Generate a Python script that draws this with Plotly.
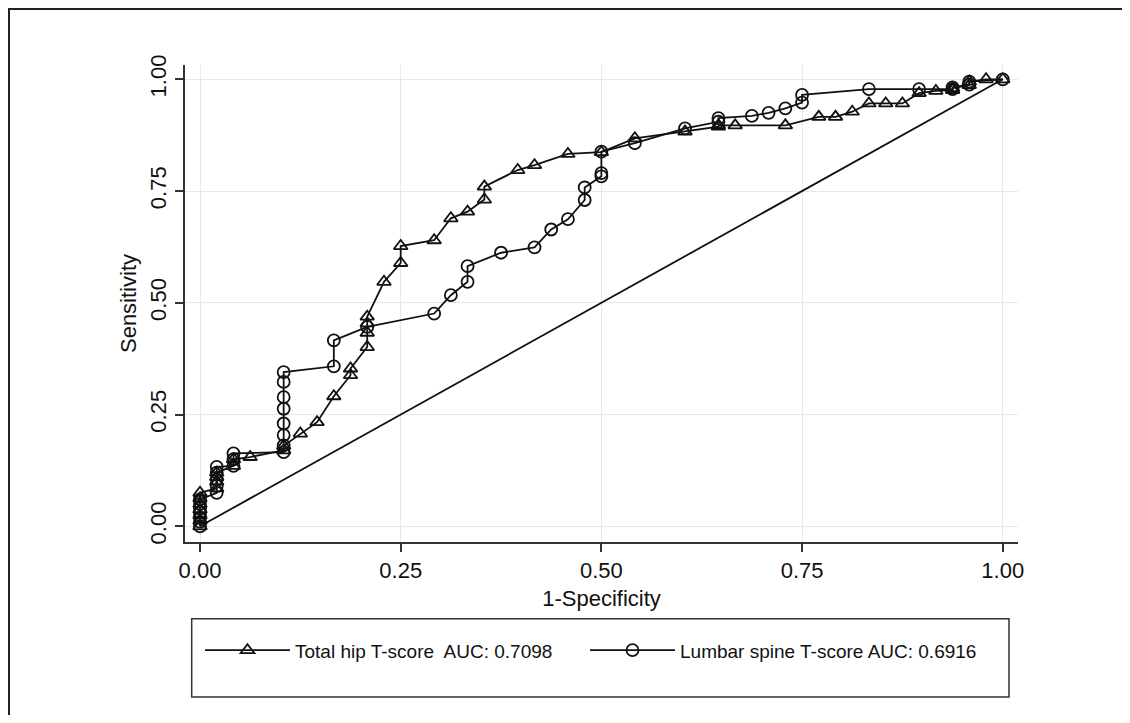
import plotly.graph_objects as go

# Total hip T-score ROC points (1-specificity, sensitivity)
hip_fpr = [0, 0, 0, 0, 0, 0, 0,
           0.0208, 0.0208, 0.0208, 0.0208,
           0.0417, 0.0417, 0.0625, 0.1042, 0.1042, 0.125, 0.1458, 0.1667,
           0.1875, 0.1875, 0.2083, 0.2083, 0.2083, 0.2083, 0.2292, 0.25, 0.25,
           0.2917, 0.3125, 0.3333, 0.3542, 0.3542, 0.3958, 0.4167, 0.4583, 0.5,
           0.5417, 0.6042, 0.6458, 0.6458, 0.6667, 0.7292, 0.7708, 0.7917, 0.8125,
           0.8333, 0.8542, 0.875, 0.8958, 0.9167, 0.9375, 0.9375, 0.9583, 0.9583,
           0.9792, 1.0]
hip_tpr = [0, 0.0125, 0.025, 0.0375, 0.05, 0.0625, 0.075,
           0.085, 0.10, 0.11, 0.12,
           0.135, 0.15, 0.155, 0.17, 0.18, 0.2075, 0.233, 0.291,
           0.338, 0.353, 0.401, 0.433, 0.454, 0.469, 0.547, 0.589, 0.627,
           0.640, 0.689, 0.704, 0.731, 0.760, 0.797, 0.808, 0.833, 0.837,
           0.868, 0.883, 0.894, 0.897, 0.897, 0.897, 0.916, 0.916, 0.9275,
           0.946, 0.946, 0.946, 0.969, 0.974, 0.976, 0.980, 0.987, 0.995,
           1.0, 1.0]

# Lumbar spine T-score ROC points
spine_fpr = [0, 0, 0, 0, 0, 0, 0,
             0.0208, 0.0208, 0.0208, 0.0208, 0.0208,
             0.0417, 0.0417, 0.0417,
             0.1042, 0.1042, 0.1042, 0.1042, 0.1042, 0.1042, 0.1042, 0.1042,
             0.1667, 0.1667, 0.2083, 0.2917, 0.3125, 0.3333, 0.3333, 0.375,
             0.4167, 0.4375, 0.4583, 0.4792, 0.4792, 0.5, 0.5, 0.5, 0.5417,
             0.6042, 0.6458, 0.6458, 0.6875, 0.7083, 0.7292, 0.75, 0.75,
             0.8333, 0.8958, 0.9375, 0.9375, 0.9583, 0.9583, 1.0]
spine_tpr = [0, 0.01, 0.02, 0.03, 0.04, 0.05, 0.06,
             0.075, 0.09, 0.105, 0.12, 0.133,
             0.135, 0.15, 0.163,
             0.166, 0.181, 0.204, 0.230, 0.263, 0.289, 0.323, 0.345,
             0.358, 0.416, 0.446, 0.476, 0.517, 0.547, 0.582, 0.612,
             0.624, 0.664, 0.687, 0.730, 0.758, 0.783, 0.790, 0.838, 0.857,
             0.890, 0.905, 0.913, 0.918, 0.925, 0.935, 0.948, 0.965,
             0.978, 0.978, 0.978, 0.982, 0.988, 0.995, 1.0]

# Reference (chance) line
ref_x = [0, 1]
ref_y = [0, 1]

tick_vals = [0, 0.25, 0.5, 0.75, 1.0]
tick_text = ["0.00", "0.25", "0.50", "0.75", "1.00"]

hip_label = "Total hip T-score\u00a0 AUC: 0.7098"
spine_label = "Lumbar spine T-score AUC: 0.6916"

INK = "#111111"
FONT = "Liberation Sans, Arial, Helvetica, sans-serif"

fig = go.Figure()
fig.add_trace(go.Scatter(
    x=hip_fpr, y=hip_tpr, mode="lines+markers", name=hip_label,
    line=dict(color=INK, width=1.8),
    marker=dict(symbol="triangle-up-open", size=12, color=INK,
                line=dict(color=INK, width=1.8)),
    legend="legend"))
fig.add_trace(go.Scatter(
    x=spine_fpr, y=spine_tpr, mode="lines+markers", name=spine_label,
    line=dict(color=INK, width=1.8),
    marker=dict(symbol="circle-open", size=12, color=INK,
                line=dict(color=INK, width=1.8)),
    legend="legend2"))
fig.add_trace(go.Scatter(
    x=ref_x, y=ref_y, mode="lines", showlegend=False,
    line=dict(color=INK, width=1.8), hoverinfo="skip"))

# page body has an 8px margin; keep the figure inside the window
OFF = 8
W, H = 1114, 707
L, R, T, B = 185 - OFF, 1018 - OFF, 65 - OFF, 541.7 - OFF
pw, ph = R - L, B - T


def px_x(v):
    return (v - OFF - L) / pw


def px_y(v):
    return (B - (v - OFF)) / ph


axis_common = dict(
    tickvals=tick_vals, ticktext=tick_text,
    showgrid=True, gridcolor="#e8e8e8", gridwidth=1.2,
    zeroline=False, showline=True, linecolor="#333333", linewidth=1.5,
    ticks="outside", ticklen=8, tickwidth=1.5, tickcolor="#333333",
    tickfont=dict(family=FONT, size=22, color=INK),
)

# outer frame: only left and top edges are visible; stop them at the figure edge
fx0, fy0 = px_x(9), px_y(9)
fx1, fy1 = px_x(OFF + W), px_y(OFF + H)
frame_path = f"M {fx0} {fy1} L {fx0} {fy0} L {fx1} {fy0}"

fig.update_layout(
    width=W, height=H,
    margin=dict(l=L, r=W - R, t=T, b=H - B, pad=0),
    paper_bgcolor="white", plot_bgcolor="white",
    font=dict(family=FONT, color=INK),
    xaxis=dict(range=[-0.0187, 1.019], automargin=False,
               title=dict(text="1-Specificity", standoff=8,
                          font=dict(family=FONT, size=22, color=INK)),
               **axis_common),
    yaxis=dict(range=[-0.0351, 1.032], automargin=False, tickangle=-90,
               title=dict(text="Sensitivity", standoff=4,
                          font=dict(family=FONT, size=22, color=INK)),
               **axis_common),
    legend=dict(orientation="h", x=px_x(200), y=px_y(650), xanchor="left",
                yanchor="middle", itemwidth=85, bgcolor="rgba(0,0,0,0)",
                font=dict(family=FONT, size=19, color=INK)),
    legend2=dict(orientation="h", x=px_x(585), y=px_y(650), xanchor="left",
                 yanchor="middle", itemwidth=85, bgcolor="rgba(0,0,0,0)",
                 font=dict(family=FONT, size=19, color=INK)),
    shapes=[
        dict(type="path", xref="paper", yref="paper", path=frame_path,
             line=dict(color="#222222", width=2), layer="below"),
        # legend box
        dict(type="rect", xref="paper", yref="paper",
             x0=px_x(191.7), x1=px_x(1009), y0=px_y(696.7), y1=px_y(618.3),
             line=dict(color="#333333", width=1.5), fillcolor="rgba(0,0,0,0)",
             layer="below"),
    ],
)

fig.write_html("out.html")
